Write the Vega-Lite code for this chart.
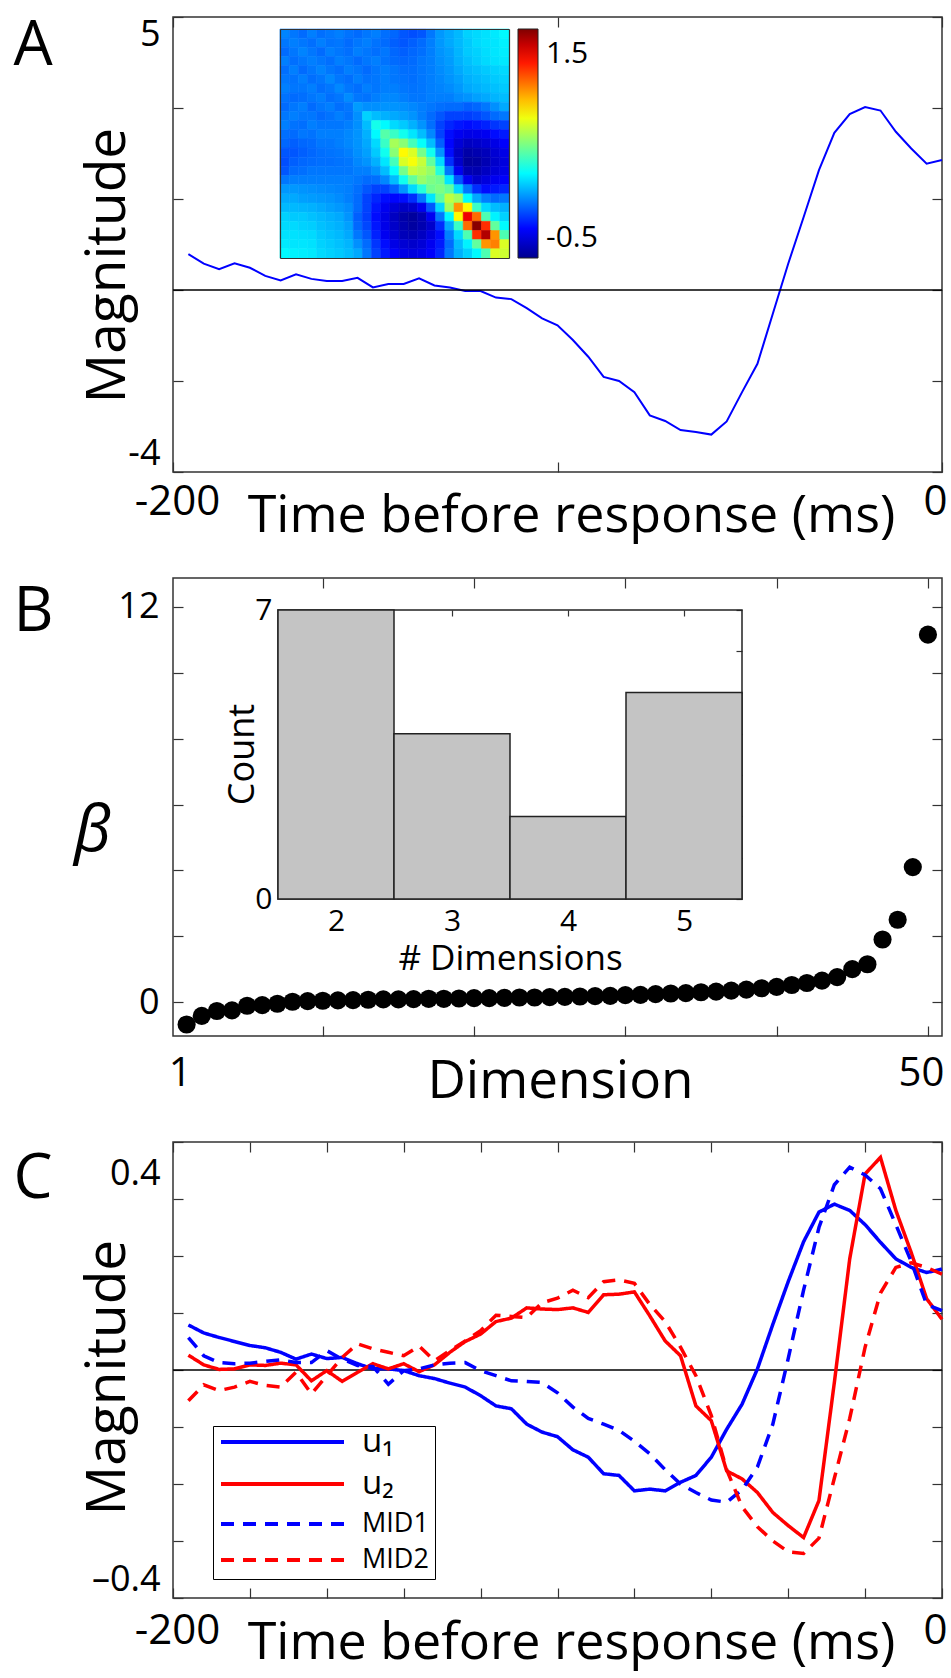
{
"$schema": "https://vega.github.io/schema/vega-lite/v6.json",
"padding": {"left": 12, "top": 13, "right": 0, "bottom": 8},
"autosize": {"type": "pad"},
"bounds": "flush",
"spacing": 106,
"config": {
  "font": "Open Sans",
  "view": {"stroke": "#333", "strokeWidth": 1.5},
  "axis": {"grid": false, "domain": false, "tickColor": "#333", "tickWidth": 1.2, "labelColor": "#000", "titleColor": "#000", "titleFontWeight": "normal", "labelFont": "Open Sans", "titleFont": "Open Sans"},
  "legend": {"labelFont": "Open Sans", "labelColor": "#000"}
},
"resolve": {"scale": {"color": "independent", "strokeDash": "independent"}, "legend": {"color": "independent", "strokeDash": "independent"}},
"datasets": {
"hist": [{"lo":1.5,"hi":2.5,"n":7},{"lo":2.5,"hi":3.5,"n":4},{"lo":3.5,"hi":4.5,"n":2},{"lo":4.5,"hi":5.5,"n":5}],
"lineA": [{"t":-196,"v":0.31},{"t":-192,"v":0.12},{"t":-188,"v":0.01},{"t":-184,"v":0.13},{"t":-180,"v":0.04},{"t":-176,"v":-0.12},{"t":-172,"v":-0.21},{"t":-168,"v":-0.09},{"t":-164,"v":-0.18},{"t":-160,"v":-0.22},{"t":-156,"v":-0.22},{"t":-152,"v":-0.16},{"t":-148,"v":-0.35},{"t":-144,"v":-0.28},{"t":-140,"v":-0.28},{"t":-136,"v":-0.17},{"t":-132,"v":-0.31},{"t":-128,"v":-0.35},{"t":-124,"v":-0.42},{"t":-120,"v":-0.42},{"t":-116,"v":-0.55},{"t":-112,"v":-0.58},{"t":-108,"v":-0.76},{"t":-104,"v":-0.96},{"t":-100,"v":-1.1},{"t":-96,"v":-1.39},{"t":-92,"v":-1.72},{"t":-88,"v":-2.12},{"t":-84,"v":-2.2},{"t":-80,"v":-2.42},{"t":-76,"v":-2.88},{"t":-72,"v":-2.99},{"t":-68,"v":-3.17},{"t":-64,"v":-3.21},{"t":-60,"v":-3.26},{"t":-56,"v":-3.0},{"t":-52,"v":-2.42},{"t":-48,"v":-1.86},{"t":-44,"v":-0.87},{"t":-40,"v":0.12},{"t":-36,"v":1.04},{"t":-32,"v":1.97},{"t":-28,"v":2.71},{"t":-24,"v":3.08},{"t":-20,"v":3.22},{"t":-16,"v":3.15},{"t":-12,"v":2.73},{"t":-8,"v":2.4},{"t":-4,"v":2.1},{"t":0,"v":2.17}],
"beta": [{"d":1,"b":-0.68},{"d":2,"b":-0.42},{"d":3,"b":-0.27},{"d":4,"b":-0.25},{"d":5,"b":-0.11},{"d":6,"b":-0.09},{"d":7,"b":-0.05},{"d":8,"b":0.01},{"d":9,"b":0.03},{"d":10,"b":0.04},{"d":11,"b":0.05},{"d":12,"b":0.06},{"d":13,"b":0.07},{"d":14,"b":0.08},{"d":15,"b":0.08},{"d":16,"b":0.09},{"d":17,"b":0.1},{"d":18,"b":0.1},{"d":19,"b":0.11},{"d":20,"b":0.12},{"d":21,"b":0.12},{"d":22,"b":0.13},{"d":23,"b":0.14},{"d":24,"b":0.14},{"d":25,"b":0.15},{"d":26,"b":0.16},{"d":27,"b":0.17},{"d":28,"b":0.18},{"d":29,"b":0.19},{"d":30,"b":0.21},{"d":31,"b":0.22},{"d":32,"b":0.24},{"d":33,"b":0.26},{"d":34,"b":0.27},{"d":35,"b":0.3},{"d":36,"b":0.32},{"d":37,"b":0.35},{"d":38,"b":0.38},{"d":39,"b":0.42},{"d":40,"b":0.46},{"d":41,"b":0.52},{"d":42,"b":0.58},{"d":43,"b":0.65},{"d":44,"b":0.76},{"d":45,"b":1.0},{"d":46,"b":1.15},{"d":47,"b":1.9},{"d":48,"b":2.5},{"d":49,"b":4.1},{"d":50,"b":11.16}],
"lineC": [
{"s":"u₁","t":-196,"v":0.079},{"s":"u₁","t":-192,"v":0.065},{"s":"u₁","t":-188,"v":0.057},{"s":"u₁","t":-184,"v":0.05},{"s":"u₁","t":-180,"v":0.043},{"s":"u₁","t":-176,"v":0.039},{"s":"u₁","t":-172,"v":0.031},{"s":"u₁","t":-168,"v":0.019},{"s":"u₁","t":-164,"v":0.028},{"s":"u₁","t":-160,"v":0.02},{"s":"u₁","t":-156,"v":0.022},{"s":"u₁","t":-152,"v":0.011},{"s":"u₁","t":-148,"v":0.002},{"s":"u₁","t":-144,"v":0.002},{"s":"u₁","t":-140,"v":-0.001},{"s":"u₁","t":-136,"v":-0.01},{"s":"u₁","t":-132,"v":-0.015},{"s":"u₁","t":-128,"v":-0.023},{"s":"u₁","t":-124,"v":-0.03},{"s":"u₁","t":-120,"v":-0.045},{"s":"u₁","t":-116,"v":-0.063},{"s":"u₁","t":-112,"v":-0.068},{"s":"u₁","t":-108,"v":-0.095},{"s":"u₁","t":-104,"v":-0.109},{"s":"u₁","t":-100,"v":-0.117},{"s":"u₁","t":-96,"v":-0.14},{"s":"u₁","t":-92,"v":-0.153},{"s":"u₁","t":-88,"v":-0.182},{"s":"u₁","t":-84,"v":-0.185},{"s":"u₁","t":-80,"v":-0.212},{"s":"u₁","t":-76,"v":-0.209},{"s":"u₁","t":-72,"v":-0.212},{"s":"u₁","t":-68,"v":-0.197},{"s":"u₁","t":-64,"v":-0.185},{"s":"u₁","t":-60,"v":-0.153},{"s":"u₁","t":-56,"v":-0.104},{"s":"u₁","t":-52,"v":-0.06},{"s":"u₁","t":-48,"v":0.002},{"s":"u₁","t":-44,"v":0.08},{"s":"u₁","t":-40,"v":0.155},{"s":"u₁","t":-36,"v":0.225},{"s":"u₁","t":-32,"v":0.277},{"s":"u₁","t":-28,"v":0.291},{"s":"u₁","t":-24,"v":0.28},{"s":"u₁","t":-20,"v":0.255},{"s":"u₁","t":-16,"v":0.224},{"s":"u₁","t":-12,"v":0.195},{"s":"u₁","t":-8,"v":0.18},{"s":"u₁","t":-4,"v":0.171},{"s":"u₁","t":0,"v":0.177},
{"s":"u₂","t":-196,"v":0.026},{"s":"u₂","t":-192,"v":0.009},{"s":"u₂","t":-188,"v":0.001},{"s":"u₂","t":-184,"v":0.002},{"s":"u₂","t":-180,"v":0.009},{"s":"u₂","t":-176,"v":0.008},{"s":"u₂","t":-172,"v":0.012},{"s":"u₂","t":-168,"v":0.009},{"s":"u₂","t":-164,"v":-0.019},{"s":"u₂","t":-160,"v":-0.001},{"s":"u₂","t":-156,"v":-0.02},{"s":"u₂","t":-152,"v":-0.004},{"s":"u₂","t":-148,"v":0.011},{"s":"u₂","t":-144,"v":0.002},{"s":"u₂","t":-140,"v":0.011},{"s":"u₂","t":-136,"v":-0.003},{"s":"u₂","t":-132,"v":0.009},{"s":"u₂","t":-128,"v":0.031},{"s":"u₂","t":-124,"v":0.05},{"s":"u₂","t":-120,"v":0.063},{"s":"u₂","t":-116,"v":0.085},{"s":"u₂","t":-112,"v":0.091},{"s":"u₂","t":-108,"v":0.109},{"s":"u₂","t":-104,"v":0.107},{"s":"u₂","t":-100,"v":0.106},{"s":"u₂","t":-96,"v":0.109},{"s":"u₂","t":-92,"v":0.101},{"s":"u₂","t":-88,"v":0.132},{"s":"u₂","t":-84,"v":0.133},{"s":"u₂","t":-80,"v":0.137},{"s":"u₂","t":-76,"v":0.095},{"s":"u₂","t":-72,"v":0.051},{"s":"u₂","t":-68,"v":0.025},{"s":"u₂","t":-64,"v":-0.063},{"s":"u₂","t":-60,"v":-0.089},{"s":"u₂","t":-56,"v":-0.177},{"s":"u₂","t":-52,"v":-0.191},{"s":"u₂","t":-48,"v":-0.215},{"s":"u₂","t":-44,"v":-0.25},{"s":"u₂","t":-40,"v":-0.273},{"s":"u₂","t":-36,"v":-0.294},{"s":"u₂","t":-32,"v":-0.229},{"s":"u₂","t":-28,"v":-0.022},{"s":"u₂","t":-24,"v":0.195},{"s":"u₂","t":-20,"v":0.344},{"s":"u₂","t":-16,"v":0.373},{"s":"u₂","t":-12,"v":0.28},{"s":"u₂","t":-8,"v":0.206},{"s":"u₂","t":-4,"v":0.125},{"s":"u₂","t":0,"v":0.089},
{"s":"MID1","t":-196,"v":0.057},{"s":"MID1","t":-192,"v":0.025},{"s":"MID1","t":-188,"v":0.013},{"s":"MID1","t":-184,"v":0.011},{"s":"MID1","t":-180,"v":0.012},{"s":"MID1","t":-176,"v":0.015},{"s":"MID1","t":-172,"v":0.018},{"s":"MID1","t":-168,"v":0.013},{"s":"MID1","t":-164,"v":0.013},{"s":"MID1","t":-160,"v":0.034},{"s":"MID1","t":-156,"v":0.019},{"s":"MID1","t":-152,"v":0.008},{"s":"MID1","t":-148,"v":0.006},{"s":"MID1","t":-144,"v":-0.025},{"s":"MID1","t":-140,"v":-0.001},{"s":"MID1","t":-136,"v":0.002},{"s":"MID1","t":-132,"v":0.009},{"s":"MID1","t":-128,"v":0.012},{"s":"MID1","t":-124,"v":0.013},{"s":"MID1","t":-120,"v":-0.001},{"s":"MID1","t":-116,"v":-0.01},{"s":"MID1","t":-112,"v":-0.019},{"s":"MID1","t":-108,"v":-0.02},{"s":"MID1","t":-104,"v":-0.022},{"s":"MID1","t":-100,"v":-0.04},{"s":"MID1","t":-96,"v":-0.065},{"s":"MID1","t":-92,"v":-0.085},{"s":"MID1","t":-88,"v":-0.095},{"s":"MID1","t":-84,"v":-0.106},{"s":"MID1","t":-80,"v":-0.125},{"s":"MID1","t":-76,"v":-0.147},{"s":"MID1","t":-72,"v":-0.175},{"s":"MID1","t":-68,"v":-0.2},{"s":"MID1","t":-64,"v":-0.215},{"s":"MID1","t":-60,"v":-0.228},{"s":"MID1","t":-56,"v":-0.232},{"s":"MID1","t":-52,"v":-0.21},{"s":"MID1","t":-48,"v":-0.17},{"s":"MID1","t":-44,"v":-0.095},{"s":"MID1","t":-40,"v":0.02},{"s":"MID1","t":-36,"v":0.14},{"s":"MID1","t":-32,"v":0.25},{"s":"MID1","t":-28,"v":0.325},{"s":"MID1","t":-24,"v":0.356},{"s":"MID1","t":-20,"v":0.342},{"s":"MID1","t":-16,"v":0.318},{"s":"MID1","t":-12,"v":0.255},{"s":"MID1","t":-8,"v":0.19},{"s":"MID1","t":-4,"v":0.115},{"s":"MID1","t":0,"v":0.104},
{"s":"MID2","t":-196,"v":-0.054},{"s":"MID2","t":-192,"v":-0.026},{"s":"MID2","t":-188,"v":-0.036},{"s":"MID2","t":-184,"v":-0.03},{"s":"MID2","t":-180,"v":-0.02},{"s":"MID2","t":-176,"v":-0.027},{"s":"MID2","t":-172,"v":-0.03},{"s":"MID2","t":-168,"v":-0.004},{"s":"MID2","t":-164,"v":-0.042},{"s":"MID2","t":-160,"v":-0.01},{"s":"MID2","t":-156,"v":0.022},{"s":"MID2","t":-152,"v":0.046},{"s":"MID2","t":-148,"v":0.037},{"s":"MID2","t":-144,"v":0.031},{"s":"MID2","t":-140,"v":0.025},{"s":"MID2","t":-136,"v":0.042},{"s":"MID2","t":-132,"v":0.016},{"s":"MID2","t":-128,"v":0.034},{"s":"MID2","t":-124,"v":0.051},{"s":"MID2","t":-120,"v":0.069},{"s":"MID2","t":-116,"v":0.096},{"s":"MID2","t":-112,"v":0.094},{"s":"MID2","t":-108,"v":0.092},{"s":"MID2","t":-104,"v":0.118},{"s":"MID2","t":-100,"v":0.126},{"s":"MID2","t":-96,"v":0.14},{"s":"MID2","t":-92,"v":0.127},{"s":"MID2","t":-88,"v":0.155},{"s":"MID2","t":-84,"v":0.158},{"s":"MID2","t":-80,"v":0.152},{"s":"MID2","t":-76,"v":0.115},{"s":"MID2","t":-72,"v":0.085},{"s":"MID2","t":-68,"v":0.04},{"s":"MID2","t":-64,"v":-0.01},{"s":"MID2","t":-60,"v":-0.08},{"s":"MID2","t":-56,"v":-0.175},{"s":"MID2","t":-52,"v":-0.24},{"s":"MID2","t":-48,"v":-0.275},{"s":"MID2","t":-44,"v":-0.3},{"s":"MID2","t":-40,"v":-0.319},{"s":"MID2","t":-36,"v":-0.322},{"s":"MID2","t":-32,"v":-0.295},{"s":"MID2","t":-28,"v":-0.19},{"s":"MID2","t":-24,"v":-0.085},{"s":"MID2","t":-20,"v":0.04},{"s":"MID2","t":-16,"v":0.135},{"s":"MID2","t":-12,"v":0.18},{"s":"MID2","t":-8,"v":0.188},{"s":"MID2","t":-4,"v":0.18},{"s":"MID2","t":0,"v":0.168}
],
"heat": [
{"r":1,"c":1,"v":-0.09},{"r":1,"c":2,"v":-0.12},{"r":1,"c":3,"v":-0.15},{"r":1,"c":4,"v":-0.1},{"r":1,"c":5,"v":-0.14},{"r":1,"c":6,"v":-0.12},{"r":1,"c":7,"v":-0.1},{"r":1,"c":8,"v":-0.13},{"r":1,"c":9,"v":-0.15},{"r":1,"c":10,"v":-0.12},{"r":1,"c":11,"v":-0.1},{"r":1,"c":12,"v":-0.14},{"r":1,"c":13,"v":-0.16},{"r":1,"c":14,"v":-0.2},{"r":1,"c":15,"v":-0.22},{"r":1,"c":16,"v":-0.2},{"r":1,"c":17,"v":-0.12},{"r":1,"c":18,"v":-0.04},{"r":1,"c":19,"v":0},{"r":1,"c":20,"v":0.04},{"r":1,"c":21,"v":0.1},{"r":1,"c":22,"v":0.12},{"r":1,"c":23,"v":0.14},{"r":1,"c":24,"v":0.16},{"r":1,"c":25,"v":0.2},
{"r":2,"c":1,"v":-0.12},{"r":2,"c":2,"v":-0.1},{"r":2,"c":3,"v":-0.12},{"r":2,"c":4,"v":-0.14},{"r":2,"c":5,"v":-0.1},{"r":2,"c":6,"v":-0.13},{"r":2,"c":7,"v":-0.12},{"r":2,"c":8,"v":-0.15},{"r":2,"c":9,"v":-0.12},{"r":2,"c":10,"v":-0.1},{"r":2,"c":11,"v":-0.13},{"r":2,"c":12,"v":-0.15},{"r":2,"c":13,"v":-0.18},{"r":2,"c":14,"v":-0.2},{"r":2,"c":15,"v":-0.18},{"r":2,"c":16,"v":-0.15},{"r":2,"c":17,"v":-0.1},{"r":2,"c":18,"v":-0.04},{"r":2,"c":19,"v":0},{"r":2,"c":20,"v":0.04},{"r":2,"c":21,"v":0.08},{"r":2,"c":22,"v":0.12},{"r":2,"c":23,"v":0.14},{"r":2,"c":24,"v":0.15},{"r":2,"c":25,"v":0.18},
{"r":3,"c":1,"v":-0.15},{"r":3,"c":2,"v":-0.12},{"r":3,"c":3,"v":-0.09},{"r":3,"c":4,"v":-0.12},{"r":3,"c":5,"v":-0.15},{"r":3,"c":6,"v":-0.1},{"r":3,"c":7,"v":-0.12},{"r":3,"c":8,"v":-0.14},{"r":3,"c":9,"v":-0.1},{"r":3,"c":10,"v":-0.12},{"r":3,"c":11,"v":-0.14},{"r":3,"c":12,"v":-0.12},{"r":3,"c":13,"v":-0.16},{"r":3,"c":14,"v":-0.18},{"r":3,"c":15,"v":-0.16},{"r":3,"c":16,"v":-0.14},{"r":3,"c":17,"v":-0.1},{"r":3,"c":18,"v":-0.05},{"r":3,"c":19,"v":-0.02},{"r":3,"c":20,"v":0.03},{"r":3,"c":21,"v":0.08},{"r":3,"c":22,"v":0.1},{"r":3,"c":23,"v":0.13},{"r":3,"c":24,"v":0.15},{"r":3,"c":25,"v":0.17},
{"r":4,"c":1,"v":-0.1},{"r":4,"c":2,"v":-0.14},{"r":4,"c":3,"v":-0.12},{"r":4,"c":4,"v":-0.1},{"r":4,"c":5,"v":-0.12},{"r":4,"c":6,"v":-0.14},{"r":4,"c":7,"v":-0.1},{"r":4,"c":8,"v":-0.12},{"r":4,"c":9,"v":-0.15},{"r":4,"c":10,"v":-0.12},{"r":4,"c":11,"v":-0.1},{"r":4,"c":12,"v":-0.13},{"r":4,"c":13,"v":-0.15},{"r":4,"c":14,"v":-0.16},{"r":4,"c":15,"v":-0.15},{"r":4,"c":16,"v":-0.12},{"r":4,"c":17,"v":-0.1},{"r":4,"c":18,"v":-0.06},{"r":4,"c":19,"v":-0.03},{"r":4,"c":20,"v":0.02},{"r":4,"c":21,"v":0.06},{"r":4,"c":22,"v":0.09},{"r":4,"c":23,"v":0.12},{"r":4,"c":24,"v":0.14},{"r":4,"c":25,"v":0.16},
{"r":5,"c":1,"v":-0.14},{"r":5,"c":2,"v":-0.1},{"r":5,"c":3,"v":-0.15},{"r":5,"c":4,"v":-0.12},{"r":5,"c":5,"v":-0.09},{"r":5,"c":6,"v":-0.12},{"r":5,"c":7,"v":-0.14},{"r":5,"c":8,"v":-0.1},{"r":5,"c":9,"v":-0.12},{"r":5,"c":10,"v":-0.15},{"r":5,"c":11,"v":-0.12},{"r":5,"c":12,"v":-0.1},{"r":5,"c":13,"v":-0.12},{"r":5,"c":14,"v":-0.14},{"r":5,"c":15,"v":-0.14},{"r":5,"c":16,"v":-0.12},{"r":5,"c":17,"v":-0.1},{"r":5,"c":18,"v":-0.07},{"r":5,"c":19,"v":-0.04},{"r":5,"c":20,"v":0},{"r":5,"c":21,"v":0.04},{"r":5,"c":22,"v":0.06},{"r":5,"c":23,"v":0.08},{"r":5,"c":24,"v":0.1},{"r":5,"c":25,"v":0.12},
{"r":6,"c":1,"v":-0.12},{"r":6,"c":2,"v":-0.13},{"r":6,"c":3,"v":-0.1},{"r":6,"c":4,"v":-0.14},{"r":6,"c":5,"v":-0.12},{"r":6,"c":6,"v":-0.08},{"r":6,"c":7,"v":-0.12},{"r":6,"c":8,"v":-0.14},{"r":6,"c":9,"v":-0.1},{"r":6,"c":10,"v":-0.13},{"r":6,"c":11,"v":-0.12},{"r":6,"c":12,"v":-0.1},{"r":6,"c":13,"v":-0.12},{"r":6,"c":14,"v":-0.13},{"r":6,"c":15,"v":-0.14},{"r":6,"c":16,"v":-0.12},{"r":6,"c":17,"v":-0.1},{"r":6,"c":18,"v":-0.08},{"r":6,"c":19,"v":-0.05},{"r":6,"c":20,"v":-0.02},{"r":6,"c":21,"v":0.02},{"r":6,"c":22,"v":0.04},{"r":6,"c":23,"v":0.06},{"r":6,"c":24,"v":0.08},{"r":6,"c":25,"v":0.1},
{"r":7,"c":1,"v":-0.1},{"r":7,"c":2,"v":-0.12},{"r":7,"c":3,"v":-0.12},{"r":7,"c":4,"v":-0.1},{"r":7,"c":5,"v":-0.14},{"r":7,"c":6,"v":-0.12},{"r":7,"c":7,"v":-0.08},{"r":7,"c":8,"v":-0.12},{"r":7,"c":9,"v":-0.14},{"r":7,"c":10,"v":-0.1},{"r":7,"c":11,"v":-0.12},{"r":7,"c":12,"v":-0.1},{"r":7,"c":13,"v":-0.1},{"r":7,"c":14,"v":-0.12},{"r":7,"c":15,"v":-0.13},{"r":7,"c":16,"v":-0.12},{"r":7,"c":17,"v":-0.1},{"r":7,"c":18,"v":-0.09},{"r":7,"c":19,"v":-0.07},{"r":7,"c":20,"v":-0.04},{"r":7,"c":21,"v":0},{"r":7,"c":22,"v":0.02},{"r":7,"c":23,"v":0.04},{"r":7,"c":24,"v":0.06},{"r":7,"c":25,"v":0.08},
{"r":8,"c":1,"v":-0.13},{"r":8,"c":2,"v":-0.15},{"r":8,"c":3,"v":-0.14},{"r":8,"c":4,"v":-0.12},{"r":8,"c":5,"v":-0.1},{"r":8,"c":6,"v":-0.14},{"r":8,"c":7,"v":-0.12},{"r":8,"c":8,"v":-0.07},{"r":8,"c":9,"v":-0.12},{"r":8,"c":10,"v":-0.13},{"r":8,"c":11,"v":-0.1},{"r":8,"c":12,"v":-0.08},{"r":8,"c":13,"v":-0.08},{"r":8,"c":14,"v":-0.1},{"r":8,"c":15,"v":-0.12},{"r":8,"c":16,"v":-0.12},{"r":8,"c":17,"v":-0.1},{"r":8,"c":18,"v":-0.1},{"r":8,"c":19,"v":-0.1},{"r":8,"c":20,"v":-0.07},{"r":8,"c":21,"v":-0.05},{"r":8,"c":22,"v":-0.02},{"r":8,"c":23,"v":0},{"r":8,"c":24,"v":0.03},{"r":8,"c":25,"v":0.05},
{"r":9,"c":1,"v":-0.15},{"r":9,"c":2,"v":-0.12},{"r":9,"c":3,"v":-0.1},{"r":9,"c":4,"v":-0.15},{"r":9,"c":5,"v":-0.12},{"r":9,"c":6,"v":-0.1},{"r":9,"c":7,"v":-0.14},{"r":9,"c":8,"v":-0.12},{"r":9,"c":9,"v":-0.03},{"r":9,"c":10,"v":-0.06},{"r":9,"c":11,"v":-0.06},{"r":9,"c":12,"v":-0.05},{"r":9,"c":13,"v":-0.05},{"r":9,"c":14,"v":-0.06},{"r":9,"c":15,"v":-0.08},{"r":9,"c":16,"v":-0.1},{"r":9,"c":17,"v":-0.12},{"r":9,"c":18,"v":-0.14},{"r":9,"c":19,"v":-0.15},{"r":9,"c":20,"v":-0.15},{"r":9,"c":21,"v":-0.18},{"r":9,"c":22,"v":-0.16},{"r":9,"c":23,"v":-0.12},{"r":9,"c":24,"v":-0.06},{"r":9,"c":25,"v":0},
{"r":10,"c":1,"v":-0.12},{"r":10,"c":2,"v":-0.1},{"r":10,"c":3,"v":-0.12},{"r":10,"c":4,"v":-0.12},{"r":10,"c":5,"v":-0.15},{"r":10,"c":6,"v":-0.13},{"r":10,"c":7,"v":-0.1},{"r":10,"c":8,"v":-0.13},{"r":10,"c":9,"v":-0.06},{"r":10,"c":10,"v":0.1},{"r":10,"c":11,"v":0.05},{"r":10,"c":12,"v":0.02},{"r":10,"c":13,"v":0},{"r":10,"c":14,"v":-0.02},{"r":10,"c":15,"v":-0.05},{"r":10,"c":16,"v":-0.1},{"r":10,"c":17,"v":-0.15},{"r":10,"c":18,"v":-0.2},{"r":10,"c":19,"v":-0.25},{"r":10,"c":20,"v":-0.25},{"r":10,"c":21,"v":-0.26},{"r":10,"c":22,"v":-0.24},{"r":10,"c":23,"v":-0.2},{"r":10,"c":24,"v":-0.15},{"r":10,"c":25,"v":-0.12},
{"r":11,"c":1,"v":-0.1},{"r":11,"c":2,"v":-0.13},{"r":11,"c":3,"v":-0.14},{"r":11,"c":4,"v":-0.1},{"r":11,"c":5,"v":-0.12},{"r":11,"c":6,"v":-0.12},{"r":11,"c":7,"v":-0.12},{"r":11,"c":8,"v":-0.1},{"r":11,"c":9,"v":-0.06},{"r":11,"c":10,"v":0.05},{"r":11,"c":11,"v":0.26},{"r":11,"c":12,"v":0.2},{"r":11,"c":13,"v":0.12},{"r":11,"c":14,"v":0.08},{"r":11,"c":15,"v":0.02},{"r":11,"c":16,"v":-0.05},{"r":11,"c":17,"v":-0.14},{"r":11,"c":18,"v":-0.25},{"r":11,"c":19,"v":-0.32},{"r":11,"c":20,"v":-0.36},{"r":11,"c":21,"v":-0.38},{"r":11,"c":22,"v":-0.36},{"r":11,"c":23,"v":-0.33},{"r":11,"c":24,"v":-0.28},{"r":11,"c":25,"v":-0.25},
{"r":12,"c":1,"v":-0.14},{"r":12,"c":2,"v":-0.15},{"r":12,"c":3,"v":-0.12},{"r":12,"c":4,"v":-0.13},{"r":12,"c":5,"v":-0.1},{"r":12,"c":6,"v":-0.1},{"r":12,"c":7,"v":-0.1},{"r":12,"c":8,"v":-0.08},{"r":12,"c":9,"v":-0.05},{"r":12,"c":10,"v":0.02},{"r":12,"c":11,"v":0.2},{"r":12,"c":12,"v":0.42},{"r":12,"c":13,"v":0.35},{"r":12,"c":14,"v":0.25},{"r":12,"c":15,"v":0.15},{"r":12,"c":16,"v":0.05},{"r":12,"c":17,"v":-0.08},{"r":12,"c":18,"v":-0.25},{"r":12,"c":19,"v":-0.38},{"r":12,"c":20,"v":-0.45},{"r":12,"c":21,"v":-0.48},{"r":12,"c":22,"v":-0.47},{"r":12,"c":23,"v":-0.45},{"r":12,"c":24,"v":-0.38},{"r":12,"c":25,"v":-0.35},
{"r":13,"c":1,"v":-0.16},{"r":13,"c":2,"v":-0.18},{"r":13,"c":3,"v":-0.16},{"r":13,"c":4,"v":-0.15},{"r":13,"c":5,"v":-0.12},{"r":13,"c":6,"v":-0.12},{"r":13,"c":7,"v":-0.1},{"r":13,"c":8,"v":-0.08},{"r":13,"c":9,"v":-0.05},{"r":13,"c":10,"v":0},{"r":13,"c":11,"v":0.12},{"r":13,"c":12,"v":0.35},{"r":13,"c":13,"v":0.62},{"r":13,"c":14,"v":0.55},{"r":13,"c":15,"v":0.38},{"r":13,"c":16,"v":0.22},{"r":13,"c":17,"v":0.05},{"r":13,"c":18,"v":-0.18},{"r":13,"c":19,"v":-0.4},{"r":13,"c":20,"v":-0.52},{"r":13,"c":21,"v":-0.58},{"r":13,"c":22,"v":-0.56},{"r":13,"c":23,"v":-0.53},{"r":13,"c":24,"v":-0.48},{"r":13,"c":25,"v":-0.42},
{"r":14,"c":1,"v":-0.2},{"r":14,"c":2,"v":-0.2},{"r":14,"c":3,"v":-0.18},{"r":14,"c":4,"v":-0.16},{"r":14,"c":5,"v":-0.14},{"r":14,"c":6,"v":-0.13},{"r":14,"c":7,"v":-0.12},{"r":14,"c":8,"v":-0.1},{"r":14,"c":9,"v":-0.06},{"r":14,"c":10,"v":-0.02},{"r":14,"c":11,"v":0.08},{"r":14,"c":12,"v":0.25},{"r":14,"c":13,"v":0.55},{"r":14,"c":14,"v":0.85},{"r":14,"c":15,"v":0.75},{"r":14,"c":16,"v":0.5},{"r":14,"c":17,"v":0.25},{"r":14,"c":18,"v":-0.05},{"r":14,"c":19,"v":-0.38},{"r":14,"c":20,"v":-0.57},{"r":14,"c":21,"v":-0.65},{"r":14,"c":22,"v":-0.63},{"r":14,"c":23,"v":-0.6},{"r":14,"c":24,"v":-0.53},{"r":14,"c":25,"v":-0.48},
{"r":15,"c":1,"v":-0.22},{"r":15,"c":2,"v":-0.18},{"r":15,"c":3,"v":-0.16},{"r":15,"c":4,"v":-0.15},{"r":15,"c":5,"v":-0.14},{"r":15,"c":6,"v":-0.14},{"r":15,"c":7,"v":-0.13},{"r":15,"c":8,"v":-0.12},{"r":15,"c":9,"v":-0.08},{"r":15,"c":10,"v":-0.05},{"r":15,"c":11,"v":0.02},{"r":15,"c":12,"v":0.15},{"r":15,"c":13,"v":0.38},{"r":15,"c":14,"v":0.75},{"r":15,"c":15,"v":0.82},{"r":15,"c":16,"v":0.7},{"r":15,"c":17,"v":0.45},{"r":15,"c":18,"v":0.12},{"r":15,"c":19,"v":-0.3},{"r":15,"c":20,"v":-0.55},{"r":15,"c":21,"v":-0.68},{"r":15,"c":22,"v":-0.67},{"r":15,"c":23,"v":-0.62},{"r":15,"c":24,"v":-0.55},{"r":15,"c":25,"v":-0.5},
{"r":16,"c":1,"v":-0.2},{"r":16,"c":2,"v":-0.15},{"r":16,"c":3,"v":-0.14},{"r":16,"c":4,"v":-0.12},{"r":16,"c":5,"v":-0.12},{"r":16,"c":6,"v":-0.12},{"r":16,"c":7,"v":-0.12},{"r":16,"c":8,"v":-0.12},{"r":16,"c":9,"v":-0.1},{"r":16,"c":10,"v":-0.1},{"r":16,"c":11,"v":-0.05},{"r":16,"c":12,"v":0.05},{"r":16,"c":13,"v":0.22},{"r":16,"c":14,"v":0.5},{"r":16,"c":15,"v":0.7},{"r":16,"c":16,"v":0.65},{"r":16,"c":17,"v":0.58},{"r":16,"c":18,"v":0.3},{"r":16,"c":19,"v":-0.12},{"r":16,"c":20,"v":-0.45},{"r":16,"c":21,"v":-0.62},{"r":16,"c":22,"v":-0.63},{"r":16,"c":23,"v":-0.58},{"r":16,"c":24,"v":-0.52},{"r":16,"c":25,"v":-0.48},
{"r":17,"c":1,"v":-0.12},{"r":17,"c":2,"v":-0.1},{"r":17,"c":3,"v":-0.1},{"r":17,"c":4,"v":-0.1},{"r":17,"c":5,"v":-0.1},{"r":17,"c":6,"v":-0.1},{"r":17,"c":7,"v":-0.1},{"r":17,"c":8,"v":-0.1},{"r":17,"c":9,"v":-0.12},{"r":17,"c":10,"v":-0.15},{"r":17,"c":11,"v":-0.14},{"r":17,"c":12,"v":-0.08},{"r":17,"c":13,"v":0.05},{"r":17,"c":14,"v":0.25},{"r":17,"c":15,"v":0.45},{"r":17,"c":16,"v":0.58},{"r":17,"c":17,"v":0.52},{"r":17,"c":18,"v":0.48},{"r":17,"c":19,"v":0.15},{"r":17,"c":20,"v":-0.2},{"r":17,"c":21,"v":-0.45},{"r":17,"c":22,"v":-0.55},{"r":17,"c":23,"v":-0.5},{"r":17,"c":24,"v":-0.45},{"r":17,"c":25,"v":-0.42},
{"r":18,"c":1,"v":-0.04},{"r":18,"c":2,"v":-0.04},{"r":18,"c":3,"v":-0.05},{"r":18,"c":4,"v":-0.06},{"r":18,"c":5,"v":-0.07},{"r":18,"c":6,"v":-0.08},{"r":18,"c":7,"v":-0.09},{"r":18,"c":8,"v":-0.1},{"r":18,"c":9,"v":-0.14},{"r":18,"c":10,"v":-0.2},{"r":18,"c":11,"v":-0.25},{"r":18,"c":12,"v":-0.25},{"r":18,"c":13,"v":-0.18},{"r":18,"c":14,"v":-0.05},{"r":18,"c":15,"v":0.12},{"r":18,"c":16,"v":0.3},{"r":18,"c":17,"v":0.48},{"r":18,"c":18,"v":0.52},{"r":18,"c":19,"v":0.45},{"r":18,"c":20,"v":0.12},{"r":18,"c":21,"v":-0.12},{"r":18,"c":22,"v":-0.3},{"r":18,"c":23,"v":-0.38},{"r":18,"c":24,"v":-0.35},{"r":18,"c":25,"v":-0.32},
{"r":19,"c":1,"v":0},{"r":19,"c":2,"v":0},{"r":19,"c":3,"v":-0.02},{"r":19,"c":4,"v":-0.03},{"r":19,"c":5,"v":-0.04},{"r":19,"c":6,"v":-0.05},{"r":19,"c":7,"v":-0.07},{"r":19,"c":8,"v":-0.1},{"r":19,"c":9,"v":-0.15},{"r":19,"c":10,"v":-0.25},{"r":19,"c":11,"v":-0.32},{"r":19,"c":12,"v":-0.38},{"r":19,"c":13,"v":-0.4},{"r":19,"c":14,"v":-0.38},{"r":19,"c":15,"v":-0.3},{"r":19,"c":16,"v":-0.12},{"r":19,"c":17,"v":0.15},{"r":19,"c":18,"v":0.45},{"r":19,"c":19,"v":0.68},{"r":19,"c":20,"v":0.6},{"r":19,"c":21,"v":0.2},{"r":19,"c":22,"v":0},{"r":19,"c":23,"v":-0.1},{"r":19,"c":24,"v":-0.15},{"r":19,"c":25,"v":-0.12},
{"r":20,"c":1,"v":0.04},{"r":20,"c":2,"v":0.04},{"r":20,"c":3,"v":0.03},{"r":20,"c":4,"v":0.02},{"r":20,"c":5,"v":0},{"r":20,"c":6,"v":-0.02},{"r":20,"c":7,"v":-0.04},{"r":20,"c":8,"v":-0.07},{"r":20,"c":9,"v":-0.15},{"r":20,"c":10,"v":-0.25},{"r":20,"c":11,"v":-0.36},{"r":20,"c":12,"v":-0.45},{"r":20,"c":13,"v":-0.52},{"r":20,"c":14,"v":-0.57},{"r":20,"c":15,"v":-0.55},{"r":20,"c":16,"v":-0.45},{"r":20,"c":17,"v":-0.2},{"r":20,"c":18,"v":0.12},{"r":20,"c":19,"v":0.6},{"r":20,"c":20,"v":1.1},{"r":20,"c":21,"v":0.85},{"r":20,"c":22,"v":0.35},{"r":20,"c":23,"v":0.12},{"r":20,"c":24,"v":0.05},{"r":20,"c":25,"v":0.02},
{"r":21,"c":1,"v":0.1},{"r":21,"c":2,"v":0.08},{"r":21,"c":3,"v":0.08},{"r":21,"c":4,"v":0.06},{"r":21,"c":5,"v":0.04},{"r":21,"c":6,"v":0.02},{"r":21,"c":7,"v":0},{"r":21,"c":8,"v":-0.05},{"r":21,"c":9,"v":-0.18},{"r":21,"c":10,"v":-0.26},{"r":21,"c":11,"v":-0.38},{"r":21,"c":12,"v":-0.48},{"r":21,"c":13,"v":-0.58},{"r":21,"c":14,"v":-0.65},{"r":21,"c":15,"v":-0.68},{"r":21,"c":16,"v":-0.62},{"r":21,"c":17,"v":-0.45},{"r":21,"c":18,"v":-0.12},{"r":21,"c":19,"v":0.2},{"r":21,"c":20,"v":0.85},{"r":21,"c":21,"v":1.5},{"r":21,"c":22,"v":1.2},{"r":21,"c":23,"v":0.4},{"r":21,"c":24,"v":0.18},{"r":21,"c":25,"v":0.1},
{"r":22,"c":1,"v":0.12},{"r":22,"c":2,"v":0.12},{"r":22,"c":3,"v":0.1},{"r":22,"c":4,"v":0.09},{"r":22,"c":5,"v":0.06},{"r":22,"c":6,"v":0.04},{"r":22,"c":7,"v":0.02},{"r":22,"c":8,"v":-0.02},{"r":22,"c":9,"v":-0.16},{"r":22,"c":10,"v":-0.24},{"r":22,"c":11,"v":-0.36},{"r":22,"c":12,"v":-0.47},{"r":22,"c":13,"v":-0.56},{"r":22,"c":14,"v":-0.63},{"r":22,"c":15,"v":-0.67},{"r":22,"c":16,"v":-0.63},{"r":22,"c":17,"v":-0.55},{"r":22,"c":18,"v":-0.3},{"r":22,"c":19,"v":0},{"r":22,"c":20,"v":0.35},{"r":22,"c":21,"v":1.2},{"r":22,"c":22,"v":1.75},{"r":22,"c":23,"v":1.35},{"r":22,"c":24,"v":0.45},{"r":22,"c":25,"v":0.2},
{"r":23,"c":1,"v":0.14},{"r":23,"c":2,"v":0.14},{"r":23,"c":3,"v":0.13},{"r":23,"c":4,"v":0.12},{"r":23,"c":5,"v":0.08},{"r":23,"c":6,"v":0.06},{"r":23,"c":7,"v":0.04},{"r":23,"c":8,"v":0},{"r":23,"c":9,"v":-0.12},{"r":23,"c":10,"v":-0.2},{"r":23,"c":11,"v":-0.33},{"r":23,"c":12,"v":-0.45},{"r":23,"c":13,"v":-0.53},{"r":23,"c":14,"v":-0.6},{"r":23,"c":15,"v":-0.62},{"r":23,"c":16,"v":-0.58},{"r":23,"c":17,"v":-0.5},{"r":23,"c":18,"v":-0.38},{"r":23,"c":19,"v":-0.1},{"r":23,"c":20,"v":0.12},{"r":23,"c":21,"v":0.4},{"r":23,"c":22,"v":1.35},{"r":23,"c":23,"v":1.65},{"r":23,"c":24,"v":1.1},{"r":23,"c":25,"v":0.4},
{"r":24,"c":1,"v":0.16},{"r":24,"c":2,"v":0.15},{"r":24,"c":3,"v":0.15},{"r":24,"c":4,"v":0.14},{"r":24,"c":5,"v":0.1},{"r":24,"c":6,"v":0.08},{"r":24,"c":7,"v":0.06},{"r":24,"c":8,"v":0.03},{"r":24,"c":9,"v":-0.06},{"r":24,"c":10,"v":-0.15},{"r":24,"c":11,"v":-0.28},{"r":24,"c":12,"v":-0.38},{"r":24,"c":13,"v":-0.48},{"r":24,"c":14,"v":-0.53},{"r":24,"c":15,"v":-0.55},{"r":24,"c":16,"v":-0.52},{"r":24,"c":17,"v":-0.45},{"r":24,"c":18,"v":-0.35},{"r":24,"c":19,"v":-0.15},{"r":24,"c":20,"v":0.05},{"r":24,"c":21,"v":0.18},{"r":24,"c":22,"v":0.45},{"r":24,"c":23,"v":1.1},{"r":24,"c":24,"v":1.15},{"r":24,"c":25,"v":0.75},
{"r":25,"c":1,"v":0.2},{"r":25,"c":2,"v":0.18},{"r":25,"c":3,"v":0.17},{"r":25,"c":4,"v":0.16},{"r":25,"c":5,"v":0.12},{"r":25,"c":6,"v":0.1},{"r":25,"c":7,"v":0.08},{"r":25,"c":8,"v":0.05},{"r":25,"c":9,"v":0},{"r":25,"c":10,"v":-0.12},{"r":25,"c":11,"v":-0.25},{"r":25,"c":12,"v":-0.35},{"r":25,"c":13,"v":-0.42},{"r":25,"c":14,"v":-0.48},{"r":25,"c":15,"v":-0.5},{"r":25,"c":16,"v":-0.48},{"r":25,"c":17,"v":-0.42},{"r":25,"c":18,"v":-0.32},{"r":25,"c":19,"v":-0.12},{"r":25,"c":20,"v":0.02},{"r":25,"c":21,"v":0.1},{"r":25,"c":22,"v":0.2},{"r":25,"c":23,"v":0.4},{"r":25,"c":24,"v":0.75},{"r":25,"c":25,"v":0.72}
]
},
"vconcat": [
{
  "width": 769, "height": 455,
  "resolve": {"scale": {"x": "independent", "y": "independent"}, "axis": {"x": "independent", "y": "independent"}},
  "layer": [
    {
      "data": {"values": [{}]},
      "mark": {"type": "point", "opacity": 0},
      "encoding": {
        "y": {"datum": 0, "type": "quantitative", "scale": {"domain": [-4, 5], "nice": false, "zero": false},
          "axis": {"orient": "left", "ticks": false, "labels": false, "domain": false, "title": "A", "titleFontSize": 62, "titleAngle": 0, "titleX": -160, "titleY": 47, "titleAlign": "left", "titleBaseline": "alphabetic"}}
      }
    },
    {
      "data": {"name": "lineA"},
      "mark": {"type": "line", "stroke": "#0000ff", "strokeWidth": 2},
      "encoding": {
        "x": {"field": "t", "type": "quantitative", "scale": {"domain": [-200, 0], "nice": false, "zero": false},
          "axis": {"orient": "bottom", "values": [-200, -100, 0], "labelExpr": "datum.value == -200 ? '-200' : datum.value == 0 ? '0' : ''", "labelFontSize": 42, "labelFlush": false, "labelBaseline": "alphabetic", "labelPadding": 52, "labelOffset": {"condition": {"test": "datum.value === 0", "value": -7}, "value": 4}, "tickSize": -10, "title": "Time before response (ms)", "titleFontSize": 52, "titleX": 398, "titleY": 59, "titleBaseline": "alphabetic", "titleAlign": "center"}},
        "y": {"field": "v", "type": "quantitative", "scale": {"domain": [-4, 5], "nice": false, "zero": false},
          "axis": {"orient": "left", "values": [-4, -2.2, -0.4, 1.4, 3.2, 5], "labelExpr": "datum.value == 5 ? '5' : datum.value == -4 ? '-4' : ''", "labelFontSize": 36, "labelFlush": true, "labelPadding": 23, "tickSize": -10, "title": "Magnitude", "titleFontSize": 55, "titleAngle": -90, "titleX": -66, "titleY": 248, "titleBaseline": "middle", "titleAlign": "center"}}
      }
    },
    {
      "data": {"values": [{"z": -0.4}]},
      "mark": {"type": "rule", "stroke": "#000", "strokeWidth": 1.5},
      "encoding": {
        "x": {"datum": -200, "type": "quantitative", "scale": {"domain": [-200, 0], "nice": false, "zero": false},
          "axis": {"orient": "top", "values": [-200, -100, 0], "labels": false, "tickSize": -10, "title": null}},
        "x2": {"datum": 0},
        "y": {"field": "z", "type": "quantitative", "scale": {"domain": [-4, 5], "nice": false, "zero": false},
          "axis": {"orient": "right", "values": [-4, -2.2, -0.4, 1.4, 3.2, 5], "labels": false, "tickSize": -10, "title": null}}
      }
    },
    {
      "data": {"name": "heat"},
      "mark": {"type": "rect", "strokeWidth": 0.6},
      "encoding": {
        "x": {"field": "c", "type": "ordinal", "scale": {"range": [107, 336], "paddingInner": 0, "paddingOuter": 0},
          "axis": {"orient": "bottom", "offset": -214, "ticks": false, "labels": false, "domain": true, "domainColor": "#333", "domainWidth": 1.2, "title": null}},
        "y": {"field": "r", "type": "ordinal", "scale": {"range": [12, 241], "paddingInner": 0, "paddingOuter": 0},
          "axis": {"orient": "left", "offset": -107, "ticks": false, "labels": false, "domain": true, "domainColor": "#333", "domainWidth": 1.2, "title": null}},
        "stroke": {"field": "v", "type": "quantitative",
          "scale": {"domain": [-0.72, -0.41, 0.21, 0.84, 1.46, 1.77], "range": ["#00008f", "#0000ff", "#00ffff", "#ffff00", "#ff0000", "#800000"], "interpolate": "rgb"}, "legend": null},
        "color": {"field": "v", "type": "quantitative",
          "scale": {"domain": [-0.72, -0.41, 0.21, 0.84, 1.46, 1.77], "range": ["#00008f", "#0000ff", "#00ffff", "#ffff00", "#ff0000", "#800000"], "interpolate": "rgb"},
          "legend": {"orient": "none", "legendX": 345, "legendY": 12, "direction": "vertical", "gradientLength": 229, "gradientThickness": 20, "values": [-0.5, 1.5], "title": null, "labelFontSize": 30, "labelOffset": 8, "labelExpr": "datum.value == 1.5 ? '1.5' : '-0.5'", "gradientStrokeColor": "#222", "gradientStrokeWidth": 1}}
      }
    },
    {
      "data": {"name": "heat"},
      "mark": {"type": "rect", "opacity": 0},
      "encoding": {
        "x": {"field": "c", "type": "ordinal", "scale": {"range": [107, 336], "paddingInner": 0, "paddingOuter": 0},
          "axis": {"orient": "top", "offset": -12, "ticks": false, "labels": false, "domain": true, "domainColor": "#333", "domainWidth": 1.2, "title": null}},
        "y": {"field": "r", "type": "ordinal", "scale": {"range": [12, 241], "paddingInner": 0, "paddingOuter": 0},
          "axis": {"orient": "right", "offset": -433, "ticks": false, "labels": false, "domain": true, "domainColor": "#333", "domainWidth": 1.2, "title": null}}
      }
    }
  ]
},
{
  "width": 769, "height": 458,
  "resolve": {"scale": {"x": "independent", "y": "independent"}, "axis": {"x": "independent", "y": "independent"}},
  "layer": [
    {
      "data": {"values": [{}]},
      "mark": {"type": "point", "opacity": 0},
      "encoding": {
        "y": {"datum": 0, "type": "quantitative", "scale": {"domain": [-1.03, 12.88], "nice": false, "zero": false},
          "axis": {"orient": "left", "ticks": false, "labels": false, "domain": false, "title": "B", "titleFontSize": 62, "titleAngle": 0, "titleX": -160, "titleY": 52, "titleAlign": "left", "titleBaseline": "alphabetic"}}
      }
    },
    {
      "data": {"values": [{}]},
      "mark": {"type": "rect", "fillOpacity": 0, "stroke": "#222", "strokeWidth": 1.5},
      "encoding": {
        "x": {"datum": 1.5, "type": "quantitative", "scale": {"domain": [1.5, 5.5], "range": [105, 569], "nice": false, "zero": false},
          "axis": {"orient": "top", "offset": -32, "values": [2, 3, 4, 5], "labels": false, "domain": false, "tickSize": -6, "title": null}},
        "x2": {"datum": 5.5},
        "y": {"datum": 0, "type": "quantitative", "scale": {"domain": [0, 7], "range": [321, 32], "nice": false},
          "axis": {"orient": "right", "offset": -200, "values": [0, 1, 2, 3, 4, 5, 6, 7], "labels": false, "domain": false, "tickSize": -6, "title": null}},
        "y2": {"datum": 7}
      }
    },
    {
      "data": {"name": "hist"},
      "mark": {"type": "rect", "fill": "#c4c4c4", "stroke": "#222", "strokeWidth": 1.5},
      "encoding": {
        "x": {"field": "lo", "type": "quantitative", "scale": {"domain": [1.5, 5.5], "range": [105, 569], "nice": false, "zero": false},
          "axis": {"orient": "bottom", "offset": -137, "values": [2, 3, 4, 5], "ticks": false, "domain": false, "labelFlush": false, "labelFontSize": 30, "labelPadding": 7, "title": "# Dimensions", "titleFontSize": 35, "titlePadding": 5}},
        "x2": {"field": "hi"},
        "y": {"field": "n", "type": "quantitative", "scale": {"domain": [0, 7], "range": [321, 32], "nice": false},
          "axis": {"orient": "left", "offset": -105, "values": [0, 7], "ticks": false, "domain": false, "labelFlush": false, "labelFontSize": 30, "labelPadding": 6, "title": "Count", "titleFontSize": 36, "titleAngle": -90, "titleX": -36, "titleY": 176, "titleBaseline": "middle", "titleAlign": "center"}},
        "y2": {"datum": 0}
      }
    },
    {
      "data": {"name": "beta"},
      "mark": {"type": "circle", "size": 330, "color": "#000", "opacity": 1},
      "encoding": {
        "x": {"field": "d", "type": "quantitative", "scale": {"domain": [0.1, 50.93], "nice": false, "zero": false},
          "axis": {"orient": "bottom", "values": [1, 10, 20, 30, 40, 50], "labelExpr": "datum.value == 1 || datum.value == 50 ? datum.label : ''", "tickOpacity": {"condition": {"test": "datum.value === 1", "value": 0}, "value": 1}, "tickSize": -10, "labelFlush": false, "labelFontSize": 40, "labelBaseline": "alphabetic", "labelPadding": 59, "labelOffset": -7, "title": "Dimension", "titleFontSize": 53, "titleX": 387, "titleY": 61, "titleBaseline": "alphabetic", "titleAlign": "center"}},
        "y": {"field": "b", "type": "quantitative", "scale": {"domain": [-1.03, 12.88], "nice": false, "zero": false},
          "axis": {"orient": "left", "values": [0, 2, 4, 6, 8, 10, 12], "labelExpr": "datum.value == 0 || datum.value == 12 ? datum.label : ''", "tickSize": -10, "labelFlush": false, "labelFontSize": 36, "labelPadding": 24, "title": "β", "titleFontSize": 64, "titleFontStyle": "italic", "titleAngle": 0, "titleX": -81, "titleY": 253, "titleBaseline": "middle", "titleAlign": "center"}}
      }
    },
    {
      "data": {"values": [{}]},
      "mark": {"type": "point", "opacity": 0},
      "encoding": {
        "x": {"datum": 1, "type": "quantitative", "scale": {"domain": [0.1, 50.93], "nice": false, "zero": false},
          "axis": {"orient": "top", "values": [10, 20, 30, 40, 50], "labels": false, "tickSize": -10, "title": null}},
        "y": {"datum": 0, "type": "quantitative", "scale": {"domain": [-1.03, 12.88], "nice": false, "zero": false},
          "axis": {"orient": "right", "values": [0, 2, 4, 6, 8, 10, 12], "labels": false, "tickSize": -10, "title": null}}
      }
    }
  ]
},
{
  "width": 769, "height": 456,
  "resolve": {"scale": {"x": "independent", "y": "independent"}, "axis": {"x": "independent", "y": "independent"}},
  "layer": [
    {
      "data": {"values": [{}]},
      "mark": {"type": "point", "opacity": 0},
      "encoding": {
        "y": {"datum": 0, "type": "quantitative", "scale": {"domain": [-0.4, 0.4], "nice": false, "zero": false},
          "axis": {"orient": "left", "ticks": false, "labels": false, "domain": false, "title": "C", "titleFontSize": 62, "titleAngle": 0, "titleX": -160, "titleY": 55, "titleAlign": "left", "titleBaseline": "alphabetic"}}
      }
    },
    {
      "data": {"values": [{"z": 0}]},
      "mark": {"type": "rule", "stroke": "#000", "strokeWidth": 1.5},
      "encoding": {
        "x": {"datum": -200, "type": "quantitative", "scale": {"domain": [-200, 0], "nice": false, "zero": false},
          "axis": {"orient": "top", "values": [-200, -180, -160, -140, -120, -100, -80, -60, -40, -20, 0], "labels": false, "tickSize": -10, "title": null}},
        "x2": {"datum": 0},
        "y": {"field": "z", "type": "quantitative", "scale": {"domain": [-0.4, 0.4], "nice": false, "zero": false},
          "axis": {"orient": "right", "values": [-0.4, -0.3, -0.2, -0.1, 0, 0.1, 0.2, 0.3, 0.4], "labels": false, "tickSize": -10, "title": null}}
      }
    },
    {
      "data": {"name": "lineC"},
      "mark": {"type": "line", "strokeWidth": 3.5},
      "encoding": {
        "x": {"field": "t", "type": "quantitative", "scale": {"domain": [-200, 0], "nice": false, "zero": false},
          "axis": {"orient": "bottom", "values": [-200, -180, -160, -140, -120, -100, -80, -60, -40, -20, 0], "labelExpr": "datum.value == -200 ? '-200' : datum.value == 0 ? '0' : ''", "labelFontSize": 42, "labelFlush": false, "labelBaseline": "alphabetic", "labelPadding": 55, "labelOffset": {"condition": {"test": "datum.value === 0", "value": -7}, "value": 4}, "tickSize": -10, "title": "Time before response (ms)", "titleFontSize": 52, "titleX": 398, "titleY": 60, "titleBaseline": "alphabetic", "titleAlign": "center"}},
        "y": {"field": "v", "type": "quantitative", "scale": {"domain": [-0.4, 0.4], "nice": false, "zero": false},
          "axis": {"orient": "left", "values": [-0.4, -0.3, -0.2, -0.1, 0, 0.1, 0.2, 0.3, 0.4], "labelExpr": "datum.value == 0.4 ? '0.4' : datum.value == -0.4 ? '–0.4' : ''", "labelFontSize": 36, "labelFlush": true, "labelOffset": {"condition": {"test": "datum.value === 0.4", "value": 14}, "value": 0}, "labelPadding": 23, "tickSize": -10, "title": "Magnitude", "titleFontSize": 55, "titleAngle": -90, "titleX": -66, "titleY": 235, "titleBaseline": "middle", "titleAlign": "center"}},
        "color": {"field": "s", "type": "nominal", "scale": {"domain": ["u₁", "u₂", "MID1", "MID2"], "range": ["#0000ff", "#ff0000", "#0000ff", "#ff0000"]},
          "legend": {"orient": "none", "legendX": 40, "legendY": 284, "title": null, "symbolType": "stroke", "symbolSize": 15129, "symbolStrokeWidth": 4, "labelFontSize": 28, "labelOffset": 16, "clipHeight": 20, "rowPadding": 9, "padding": 6, "strokeColor": "#000", "fillColor": "#fff",
            "encode": {"labels": {"update": {"fontSize": {"signal": "datum.label == 'MID1' || datum.label == 'MID2' ? 27 : 33"}}}}}},
        "strokeDash": {"field": "s", "type": "nominal", "scale": {"domain": ["u₁", "u₂", "MID1", "MID2"], "range": [[1, 0], [1, 0], [13, 9], [13, 9]]},
          "legend": {"orient": "none", "legendX": 40, "legendY": 284, "title": null, "symbolType": "stroke", "symbolSize": 15129, "symbolStrokeWidth": 4, "labelFontSize": 28, "labelOffset": 16, "clipHeight": 20, "rowPadding": 9, "padding": 6, "strokeColor": "#000", "fillColor": "#fff",
            "encode": {"labels": {"update": {"fontSize": {"signal": "datum.label == 'MID1' || datum.label == 'MID2' ? 27 : 33"}}}}}}
      }
    }
  ]
}
]
}
